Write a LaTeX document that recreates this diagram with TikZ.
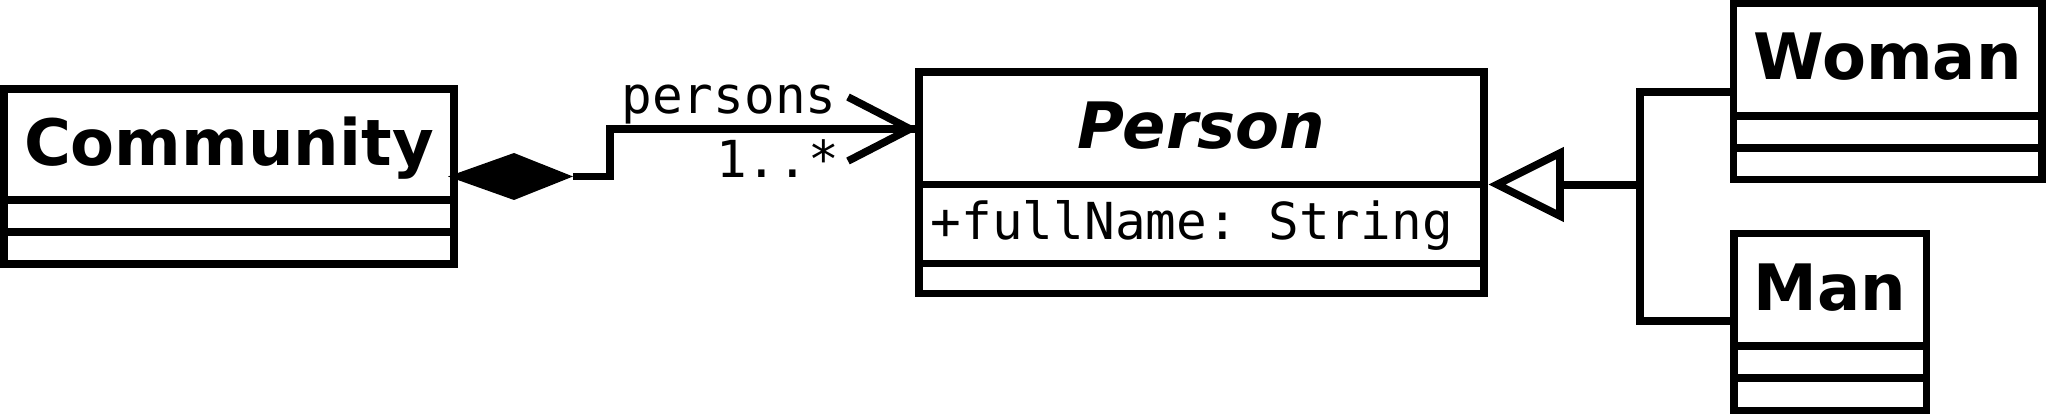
\documentclass[tikz,border=0pt]{standalone}
\usepackage{fontspec}
\setmainfont{DejaVu Sans}
\setmonofont{DejaVu Sans Mono}
\begin{document}
\begin{tikzpicture}[x=1pt,y=-1pt, line width=7.6pt, line join=miter,
  classbox/.style={draw, rectangle, inner sep=0pt, outer sep=0pt, line width=7.6pt},
  classtitle/.style={font=\fontsize{64}{64}\selectfont\bfseries, inner sep=0pt, anchor=base},
  monotext/.style={font=\fontsize{51}{51}\selectfont\ttfamily, inner sep=0pt, anchor=base},
  conn/.style={draw, line width=7.6pt}]
\useasboundingbox (0,0) rectangle (2046,414);

% Community
\node[classbox, minimum width=450.3pt, minimum height=175pt] (community) at (228.85,176.5) {};
\draw (community.west |- 0,200) -- (community.east |- 0,200);
\draw (community.west |- 0,232) -- (community.east |- 0,232);
\node[classtitle] (communityname) at (228.85,165.5) {Community};

% Person
\node[classbox, minimum width=564.9pt, minimum height=221.5pt] (person) at (1201.25,182.75) {};
\draw (person.west |- 0,184.5) -- (person.east |- 0,184.5);
\draw (person.west |- 0,263.7) -- (person.east |- 0,263.7);
\node[classtitle, font=\fontsize{64}{64}\selectfont\bfseries\itshape] (personname) at (1201.25,149) {Person};
\node[monotext, anchor=base west] (personattr) at (927,240) {+fullName: String};

% Woman
\node[classbox, minimum width=308.5pt, minimum height=176pt] (woman) at (1887.75,91.7) {};
\draw (woman.west |- 0,116) -- (woman.east |- 0,116);
\draw (woman.west |- 0,148) -- (woman.east |- 0,148);
\node[classtitle] (womanname) at (1887.75,80) {Woman};

% Man
\node[classbox, minimum width=192.6pt, minimum height=176.6pt] (man) at (1830,322) {};
\draw (man.west |- 0,345.8) -- (man.east |- 0,345.8);
\draw (man.west |- 0,378) -- (man.east |- 0,378);
\node[classtitle] (manname) at (1830,310) {Man};

% Composition: Community -> Person
\coordinate (dleft) at (448,176.5);
\coordinate (dtop) at (514,153);
\coordinate (dright) at (573,176.5);
\coordinate (dbot) at (514,200);
\fill (dleft) -- (dtop) -- (dright) -- (dbot) -- cycle;
\coordinate (bend) at (610,176.5);
\draw[conn] (dright) -- (bend) |- (person.west |- 0,129);
\coordinate (atip) at (910,129);
\draw[conn] (848,97) -- (atip) -- (848,161);
\node[monotext] (rolelabel) at (729,114) {persons};
\node[monotext] (multlabel) at (777.5,178) {1..*};

% Generalization
\coordinate (gtip) at (1497,184.5);
\coordinate (gjoin) at (1640,185);
\draw[fill=white] (gtip) -- (1560,153) -- (1560,216) -- cycle;
\draw[conn] (1560,185) -- (gjoin);
\draw[conn] (woman.west |- 0,92) -| (gjoin);
\draw[conn] (man.west |- 0,321) -| (gjoin);
\end{tikzpicture}
\end{document}
